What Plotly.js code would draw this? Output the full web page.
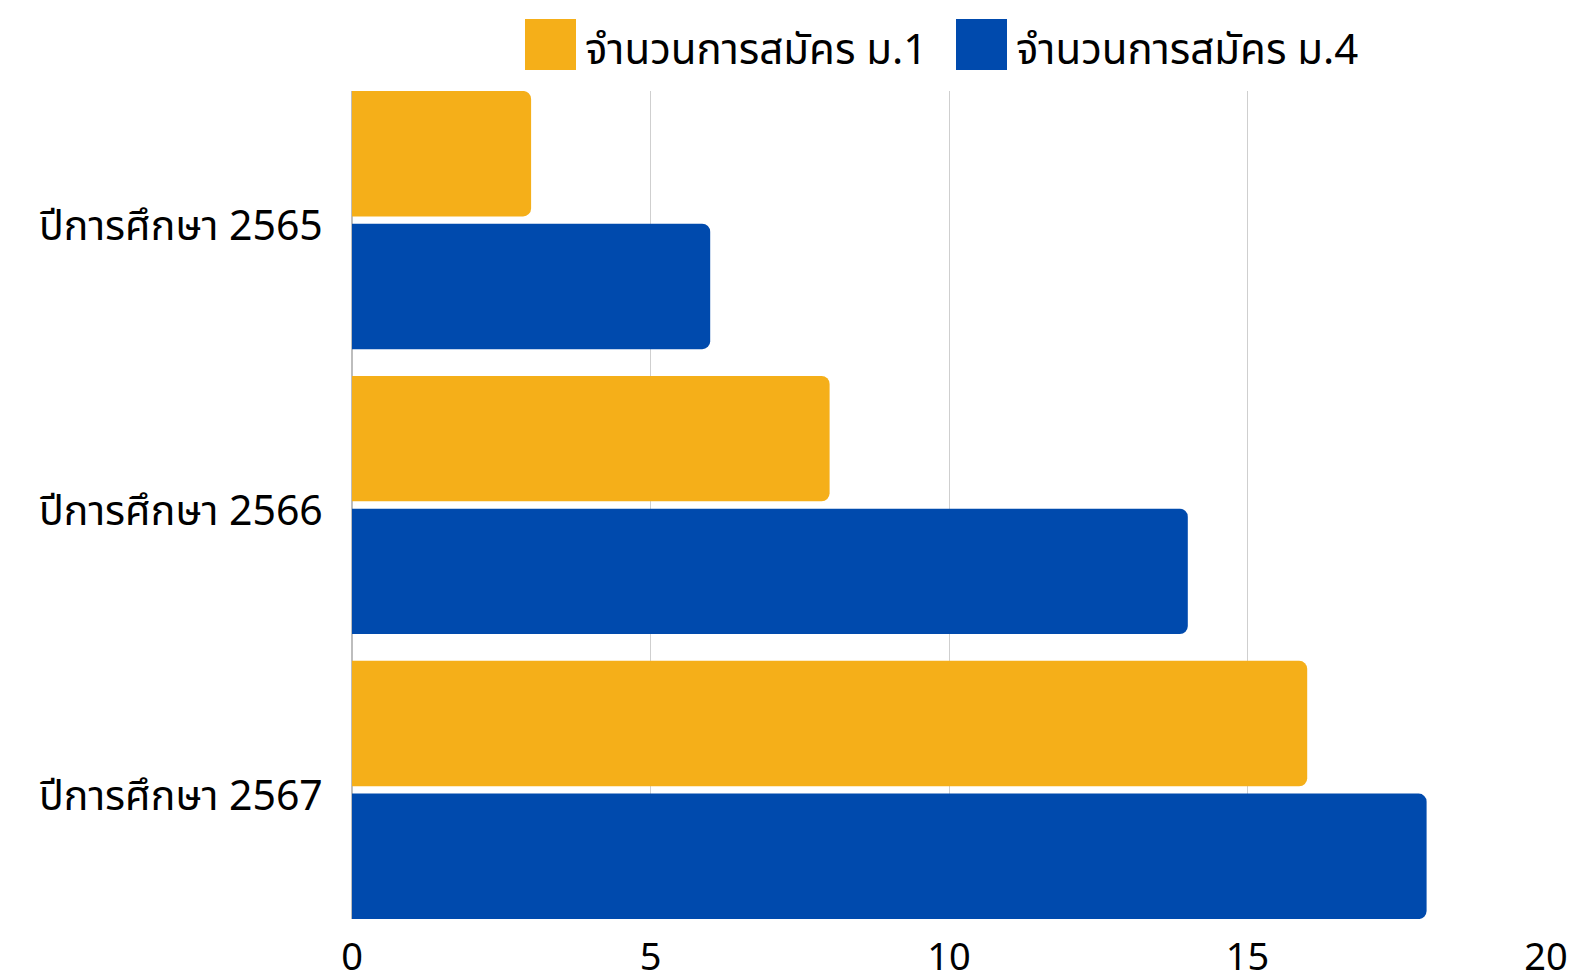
<!DOCTYPE html>
<html>
<head>
<meta charset="utf-8">
<script src="https://cdn.plot.ly/plotly-3.0.1.min.js"></script>
<style>html,body{margin:0;padding:0;background:#fff;}#chart{width:1576px;height:973px;}</style>
</head>
<body>
<div id="chart"></div>
<script>
const categories = ['ปีการศึกษา 2565', 'ปีการศึกษา 2566', 'ปีการศึกษา 2567'];
const seriesNames = ['จำนวนการสมัคร ม.1', 'จำนวนการสมัคร ม.4'];
const valuesM1 = [3, 8, 16];
const valuesM4 = [6, 14, 18];
const xTicks = [0, 5, 10, 15, 20];

const colors = ['#F5AF19', '#004AAD'];
const W = 1576, H = 973;
const M = {l: 352, r: 30, t: 91, b: 54};
const pw = W - M.l - M.r, ph = H - M.t - M.b;
const FONT = 'Noto Sans, Noto Sans Thai, Roboto, sans-serif';

const traces = [valuesM1, valuesM4].map((v, i) => ({
  type: 'bar', orientation: 'h', name: seriesNames[i],
  x: v, y: categories,
  marker: {color: colors[i], cornerradius: 8},
  hoverinfo: 'x+name'
}));

// custom legend (big squares)
const px2x = p => (p - M.l) / pw;
const py2y = p => (H - M.b - p) / ph;
const legendX = [525, 956];
const shapes = [], annotations = [];
legendX.forEach((lx, i) => {
  shapes.push({type: 'rect', xref: 'paper', yref: 'paper',
    x0: px2x(lx), x1: px2x(lx + 51), y0: py2y(70), y1: py2y(19),
    fillcolor: colors[i], line: {width: 0}});
  annotations.push({xref: 'paper', yref: 'paper', x: px2x(lx + 58), y: py2y(48),
    xanchor: 'left', yanchor: 'middle', showarrow: false,
    text: seriesNames[i], font: {family: FONT, size: 42, color: '#000'}});
});

const layout = {
  width: W, height: H,
  margin: M,
  paper_bgcolor: '#fff', plot_bgcolor: '#fff',
  showlegend: false,
  barmode: 'group',
  bargap: 0.068,
  bargroupgap: 0.055,
  font: {family: FONT, color: '#000'},
  xaxis: {
    range: [0, 20], tickvals: xTicks, ticktext: xTicks.map(String),
    showgrid: true, gridcolor: '#cfcfcf', gridwidth: 1,
    zeroline: true, zerolinecolor: '#bdbdbd', zerolinewidth: 1.5,
    showline: false,
    ticks: 'outside', ticklen: 4, tickcolor: 'rgba(0,0,0,0)',
    tickfont: {family: FONT, size: 38, color: '#000'},
    fixedrange: true
  },
  yaxis: {
    type: 'category',
    range: [2.453, -0.453],
    showgrid: false, zeroline: false, showline: false,
    ticks: 'outside', ticklen: 20, tickcolor: 'rgba(0,0,0,0)',
    ticklabelshift: -6,
    tickfont: {family: FONT, size: 41, color: '#000'},
    fixedrange: true
  },
  shapes: shapes,
  annotations: annotations
};

Plotly.newPlot('chart', traces, layout, {displayModeBar: false, staticPlot: true});
</script>
</body>
</html>
